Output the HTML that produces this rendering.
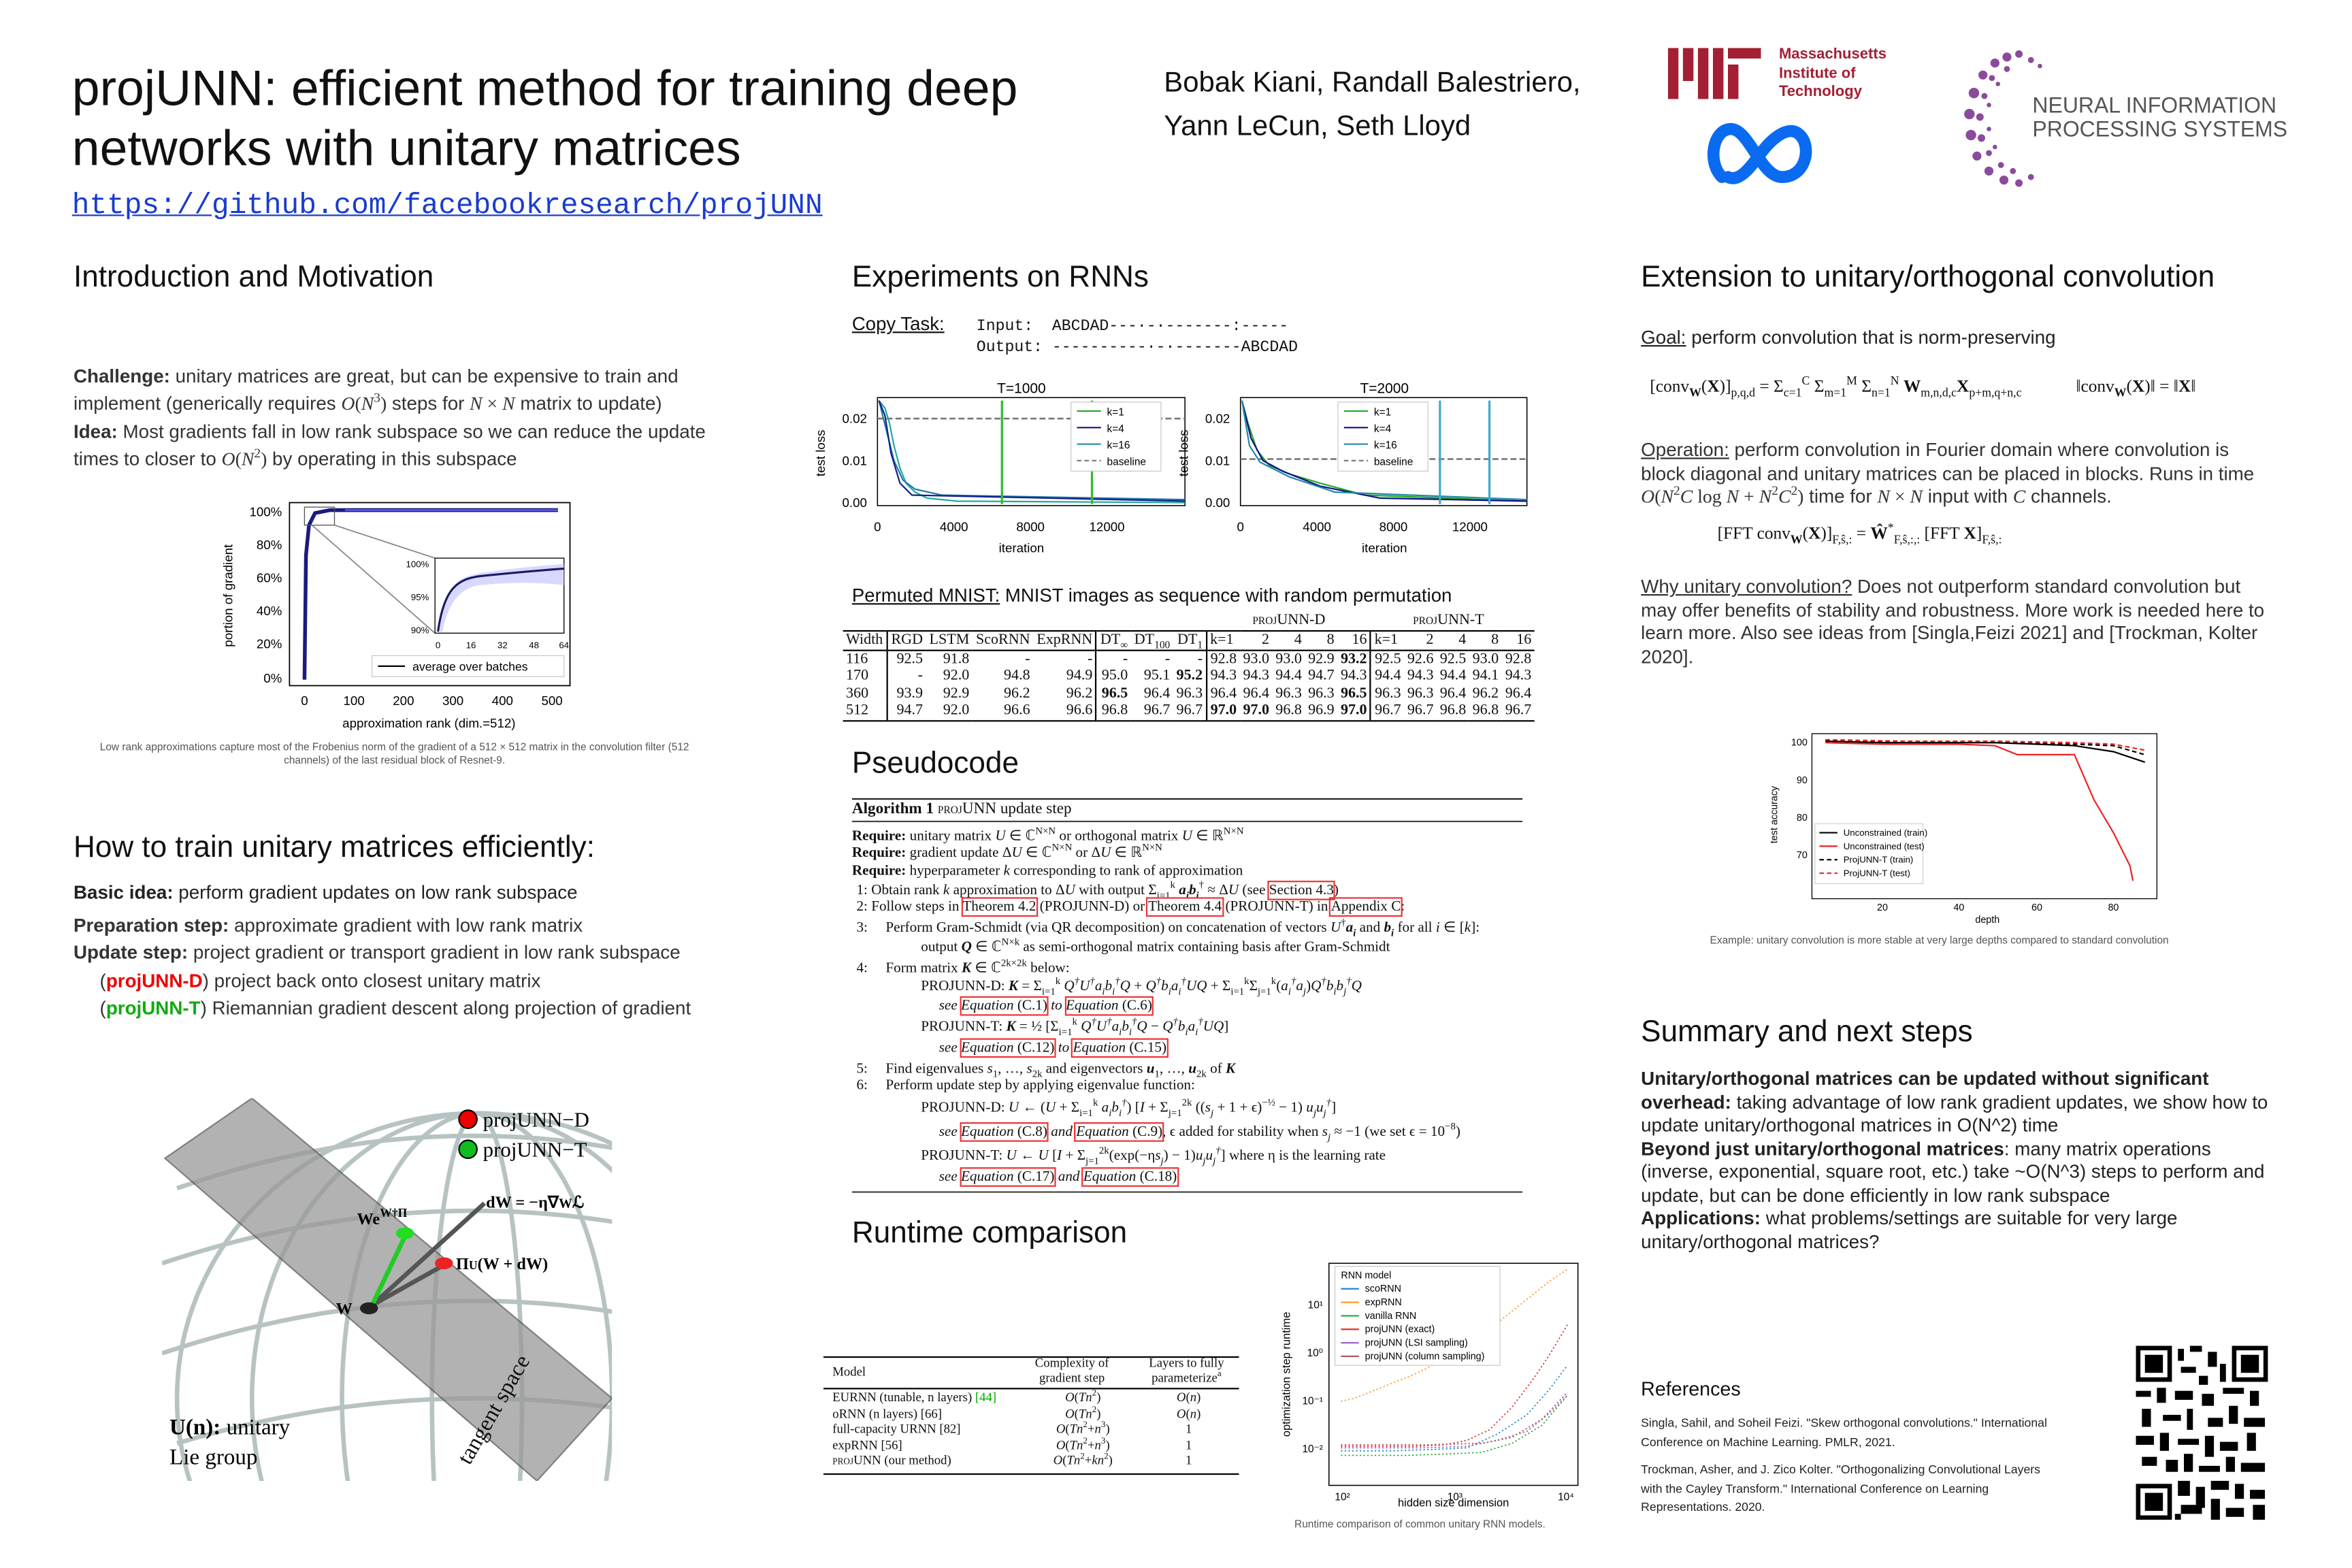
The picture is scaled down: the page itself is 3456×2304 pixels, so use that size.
<!DOCTYPE html>
<html><head><meta charset="utf-8">
<style>
html,body{margin:0;padding:0;background:#fff;overflow:hidden;}
body{width:3456px;height:2304px;overflow:hidden;position:relative;}
#s{position:absolute;left:0;top:0;width:1568px;height:1045px;transform:scale(2.204,2.2046);transform-origin:0 0;font-family:"Liberation Sans",sans-serif;color:#111;overflow:hidden;}
sup,sub{line-height:0;font-size:70%;}
.a{position:absolute;white-space:nowrap;}
.h{font-size:20px;color:#111;}
.b{font-size:12.6px;line-height:18.3px;color:#333;}
.sr{font-family:"Liberation Serif",serif;}
.alg{font-family:"Liberation Serif",serif;font-size:9.6px;color:#111;position:absolute;white-space:nowrap;line-height:11px;}
.bx{outline:1px solid #e33;color:#111;}
table.t{border-collapse:collapse;font-family:"Liberation Serif",serif;font-size:10px;position:absolute;}
table.t td{padding:0 2px;text-align:right;line-height:11.6px;}
.cap{font-size:7px;color:#555;}
</style></head><body><div id="s">

<div class="a" style="left:48px;top:40px;font-size:33.3px;line-height:40px;color:#111">projUNN: efficient method for training deep<br>networks with unitary matrices</div>
<div class="a" style="left:48px;top:126px;font-size:19.4px;font-family:'Liberation Mono',monospace;color:#1a3ccc;text-decoration:underline">https://github.com/facebookresearch/projUNN</div>
<div class="a" style="left:776px;top:41px;font-size:19px;line-height:29px">Bobak Kiani, Randall Balestriero,<br>Yann LeCun, Seth Lloyd</div>

<svg class="a" style="left:1112px;top:32px" width="70" height="36">
<g fill="#a31f34"><rect x="0" y="0" width="7" height="34"/><rect x="10" y="0" width="7" height="22"/><rect x="20" y="0" width="7" height="34"/><rect x="30" y="0" width="7" height="34"/><rect x="40" y="0" width="22" height="7"/><rect x="40" y="11" width="7" height="23"/></g></svg>
<div class="a" style="left:1186px;top:31px;font-size:10px;line-height:12.5px;color:#a31f34;font-weight:bold">Massachusetts<br>Institute of<br>Technology</div>
<svg class="a" style="left:1138px;top:78px" width="74" height="48"><path d="M10 40 C0 30 4 8 16 8 C28 8 36 40 50 40 C66 40 70 20 62 12 C54 4 42 16 36 24 C30 32 22 44 14 40" fill="none" stroke="#0a6bf0" stroke-width="8" stroke-linecap="round"/></svg>
<svg class="a" style="left:1308px;top:30px" width="60" height="98">
<g fill="#8a4b9c">
<circle cx="30" cy="8" r="3"/><circle cx="38" cy="6" r="2.5"/><circle cx="22" cy="12" r="3"/><circle cx="46" cy="10" r="2"/><circle cx="14" cy="20" r="3"/><circle cx="20" cy="22" r="2"/><circle cx="8" cy="32" r="3.5"/><circle cx="15" cy="34" r="2"/><circle cx="5" cy="46" r="3.5"/><circle cx="12" cy="48" r="2.5"/><circle cx="6" cy="60" r="3.5"/><circle cx="13" cy="62" r="2.5"/><circle cx="10" cy="74" r="3"/><circle cx="18" cy="72" r="2"/><circle cx="18" cy="84" r="3"/><circle cx="26" cy="80" r="2"/><circle cx="28" cy="90" r="3"/><circle cx="38" cy="92" r="2.5"/><circle cx="34" cy="84" r="2"/><circle cx="46" cy="88" r="2"/><circle cx="52" cy="14" r="1.5"/><circle cx="30" cy="16" r="2"/><circle cx="24" cy="26" r="1.5"/><circle cx="18" cy="40" r="1.5"/><circle cx="18" cy="56" r="1.5"/><circle cx="22" cy="68" r="1.5"/></g></svg>
<div class="a" style="left:1355px;top:63px;font-size:14.5px;line-height:16px;color:#555">NEURAL INFORMATION<br>PROCESSING SYSTEMS</div>

<div class="a h" style="left:49px;top:174px">Introduction and Motivation</div>
<div class="a h" style="left:568px;top:174px">Experiments on RNNs</div>
<div class="a h" style="left:1094px;top:174px">Extension to unitary/orthogonal convolution</div>
<div class="a h" style="left:49px;top:554px">How to train unitary matrices efficiently:</div>
<div class="a h" style="left:568px;top:498px">Pseudocode</div>
<div class="a h" style="left:568px;top:811px">Runtime comparison</div>
<div class="a h" style="left:1094px;top:677px">Summary and next steps</div>
<div class="a" style="left:1094px;top:918px;font-size:13px">References</div>

<div class="a b" style="left:49px;top:242px"><b>Challenge:</b> unitary matrices are great, but can be expensive to train and<br>implement (generically requires <span class="sr"><i>O</i>(<i>N</i><sup>3</sup>)</span> steps for <span class="sr"><i>N</i> × <i>N</i></span> matrix to update)<br><b>Idea:</b> Most gradients fall in low rank subspace so we can reduce the update<br>times to closer to <span class="sr"><i>O</i>(<i>N</i><sup>2</sup>)</span> by operating in this subspace</div>

<svg class="a" style="left:140px;top:330px" width="250" height="160" font-family="Liberation Sans" font-size="8.5">
<rect x="53" y="5" width="187" height="122" fill="none" stroke="#000" stroke-width="0.8"/>
<g text-anchor="end"><text x="48" y="14">100%</text><text x="48" y="36">80%</text><text x="48" y="58">60%</text><text x="48" y="80">40%</text><text x="48" y="102">20%</text><text x="48" y="125">0%</text></g>
<text transform="translate(15,67) rotate(-90)" text-anchor="middle">portion of gradient</text>
<g text-anchor="middle"><text x="63" y="140">0</text><text x="96" y="140">100</text><text x="129" y="140">200</text><text x="162" y="140">300</text><text x="195" y="140">400</text><text x="228" y="140">500</text><text x="146" y="155">approximation rank (dim.=512)</text></g>
<path d="M63 123 L64 40 L66 20 L70 12 L80 10 L232 10" fill="none" stroke="#1a1a80" stroke-width="2.5"/>
<line x1="90" y1="10" x2="232" y2="10" stroke="#6a6aff" stroke-width="1"/>
<rect x="63" y="8" width="20" height="12" fill="none" stroke="#555" stroke-width="0.6"/>
<line x1="83" y1="20" x2="150" y2="42" stroke="#888" stroke-width="0.8"/><line x1="68" y1="20" x2="150" y2="92" stroke="#888" stroke-width="0.8"/>
<rect x="150" y="42" width="86" height="50" fill="#fff" stroke="#000" stroke-width="0.6"/>
<path d="M153 91 C156 60 165 55 180 52 C200 49 220 47 236 46 L236 60 C220 58 200 58 180 60 C165 62 158 75 155 91Z" fill="#c8c8ff" opacity="0.7"/>
<path d="M152 91 C156 62 165 56 180 54 C200 52 220 50 236 49" fill="none" stroke="#1a1a60" stroke-width="1.4"/>
<g font-size="6" text-anchor="end"><text x="146" y="48">100%</text><text x="146" y="70">95%</text><text x="146" y="92">90%</text></g>
<g font-size="6" text-anchor="middle"><text x="152" y="102">0</text><text x="174" y="102">16</text><text x="195" y="102">32</text><text x="216" y="102">48</text><text x="236" y="102">64</text></g>
<rect x="108" y="107" width="128" height="14" fill="#fff" stroke="#ccc" stroke-width="0.6"/>
<line x1="112" y1="114" x2="130" y2="114" stroke="#000"/><text x="135" y="117" font-size="8">average over batches</text>
</svg>
<div class="a cap" style="left:51px;top:494px;text-align:center;width:424px;white-space:normal;line-height:9px">Low rank approximations capture most of the Frobenius norm of the gradient of a 512 × 512 matrix in the convolution filter (512 channels) of the last residual block of Resnet-9.</div>

<div class="a b" style="left:49px;top:586px;color:#222"><b>Basic idea:</b> perform gradient updates on low rank subspace</div>
<div class="a b" style="left:49px;top:608px"><b>Preparation step:</b> approximate gradient with low rank matrix<br><b>Update step:</b> project gradient or transport gradient in low rank subspace<br>&nbsp;&nbsp;&nbsp;&nbsp;&nbsp;(<b style="color:#e00">projUNN-D</b>) project back onto closest unitary matrix<br>&nbsp;&nbsp;&nbsp;&nbsp;&nbsp;(<b style="color:#1a1">projUNN-T</b>) Riemannian gradient descent along projection of gradient</div>

<svg class="a" style="left:108px;top:732px" width="300" height="255" font-family="Liberation Serif">
<g fill="none" stroke="#9aa" stroke-width="3" opacity="0.7">
<ellipse cx="210" cy="200" rx="200" ry="190"/>
<ellipse cx="210" cy="200" rx="150" ry="190"/>
<ellipse cx="210" cy="200" rx="90" ry="190"/>
<ellipse cx="210" cy="200" rx="30" ry="190"/>
<path d="M10 60 Q210 -10 400 60"/><path d="M0 110 Q210 40 410 110"/><path d="M0 170 Q210 100 410 170"/><path d="M10 230 Q210 170 410 230"/>
</g>
<polygon points="2,40 60,0 300,200 250,255" fill="#999" opacity="0.75" stroke="#555"/>
<line x1="140" y1="138" x2="215" y2="70" stroke="#555" stroke-width="3"/>
<line x1="140" y1="138" x2="190" y2="110" stroke="#555" stroke-width="3"/>
<line x1="140" y1="138" x2="162" y2="92" stroke="#2c2" stroke-width="3"/>
<ellipse cx="138" cy="140" rx="6" ry="4" fill="#222"/>
<ellipse cx="162" cy="90" rx="6" ry="4" fill="#2d2"/>
<ellipse cx="188" cy="110" rx="6" ry="4" fill="#e22"/>
<text x="130" y="84" font-size="11" font-weight="bold">We<tspan font-size="8" dy="-5">W†Π</tspan></text>
<text x="216" y="73" font-size="11" font-weight="bold">dW = −η∇<tspan font-size="9">W</tspan>ℒ</text>
<text x="196" y="114" font-size="11" font-weight="bold">Π<tspan font-size="8">U</tspan>(W + dW)</text>
<text x="116" y="144" font-size="11" font-weight="bold">W</text>
<text x="5" y="224" font-size="15" font-weight="bold">U(n): <tspan font-weight="normal">unitary</tspan></text>
<text x="5" y="244" font-size="15">Lie group</text>
<text transform="translate(205,245) rotate(-60)" font-size="15" fill="#111">tangent space</text>
<circle cx="204" cy="14" r="6" fill="#e00" stroke="#000"/><text x="214" y="19" font-size="14">projUNN−D</text>
<circle cx="204" cy="34" r="6" fill="#1b2" stroke="#000"/><text x="214" y="39" font-size="14">projUNN−T</text>
</svg>

<div class="a" style="left:568px;top:209px;font-size:12.5px"><u>Copy Task:</u></div>
<div class="a" style="left:651px;top:212px;font-family:'Liberation Mono',monospace;font-size:10.5px;line-height:13.5px">Input:&nbsp; ABCDAD---·-·-------:-----<br>Output: ----------·-·-------ABCDAD</div>

<svg class="a" style="left:538px;top:252px" width="490" height="120" font-family="Liberation Sans" font-size="8.5">
<g>
<rect x="47" y="13" width="205" height="72" fill="none" stroke="#000" stroke-width="0.7"/>
<text x="143" y="10" text-anchor="middle" font-size="9.5">T=1000</text>
<g text-anchor="end"><text x="40" y="30">0.02</text><text x="40" y="58">0.01</text><text x="40" y="86">0.00</text></g>
<text transform="translate(12,50) rotate(-90)" text-anchor="middle">test loss</text>
<g text-anchor="middle"><text x="47" y="102">0</text><text x="98" y="102">4000</text><text x="149" y="102">8000</text><text x="200" y="102">12000</text><text x="143" y="116">iteration</text></g>
<line x1="47" y1="27" x2="252" y2="27" stroke="#777" stroke-dasharray="4,2" stroke-width="1.2"/>
<path d="M48 15 L52 20 L55 30 L58 45 L62 60 L66 70 L72 76 L80 80 L100 82 L252 83" fill="none" stroke="#2a9" stroke-width="1"/>
<path d="M48 15 L53 35 L58 55 L64 68 L72 74 L90 78 L252 81" fill="none" stroke="#27a" stroke-width="1"/>
<path d="M48 15 L52 25 L56 50 L62 70 L70 78 L252 82" fill="none" stroke="#128" stroke-width="1"/>
<line x1="130" y1="15" x2="130" y2="84" stroke="#3b3" stroke-width="1.5"/>
<line x1="190" y1="15" x2="190" y2="84" stroke="#3b3" stroke-width="1.5"/>
<rect x="176" y="16" width="60" height="46" fill="#fff" stroke="#ccc" stroke-width="0.6"/>
<g font-size="7"><line x1="180" y1="22" x2="196" y2="22" stroke="#2a2"/><text x="200" y="25">k=1</text><line x1="180" y1="33" x2="196" y2="33" stroke="#118"/><text x="200" y="36">k=4</text><line x1="180" y1="44" x2="196" y2="44" stroke="#28a"/><text x="200" y="47">k=16</text><line x1="180" y1="55" x2="196" y2="55" stroke="#777" stroke-dasharray="3,2"/><text x="200" y="58">baseline</text></g>
</g>
<g transform="translate(242,0)">
<rect x="47" y="13" width="191" height="72" fill="none" stroke="#000" stroke-width="0.7"/>
<text x="143" y="10" text-anchor="middle" font-size="9.5">T=2000</text>
<g text-anchor="end"><text x="40" y="30">0.02</text><text x="40" y="58">0.01</text><text x="40" y="86">0.00</text></g>
<text transform="translate(12,50) rotate(-90)" text-anchor="middle">test loss</text>
<g text-anchor="middle"><text x="47" y="102">0</text><text x="98" y="102">4000</text><text x="149" y="102">8000</text><text x="200" y="102">12000</text><text x="143" y="116">iteration</text></g>
<line x1="47" y1="54" x2="238" y2="54" stroke="#777" stroke-dasharray="4,2" stroke-width="1.2"/>
<path d="M48 15 L52 30 L58 48 L66 58 L80 64 L100 70 L130 78 L238 82" fill="none" stroke="#2a2" stroke-width="1"/>
<path d="M48 15 L54 40 L62 55 L75 62 L100 72 L140 80 L238 82" fill="none" stroke="#118" stroke-width="1"/>
<path d="M48 15 L53 45 L60 56 L80 66 L110 76 L238 81" fill="none" stroke="#28a" stroke-width="1"/>
<line x1="180" y1="15" x2="180" y2="84" stroke="#4ac" stroke-width="1.5"/>
<line x1="213" y1="15" x2="213" y2="84" stroke="#4ac" stroke-width="1.5"/>
<rect x="112" y="16" width="60" height="46" fill="#fff" stroke="#ccc" stroke-width="0.6"/>
<g font-size="7"><line x1="116" y1="22" x2="132" y2="22" stroke="#2a2"/><text x="136" y="25">k=1</text><line x1="116" y1="33" x2="132" y2="33" stroke="#118"/><text x="136" y="36">k=4</text><line x1="116" y1="44" x2="132" y2="44" stroke="#28a"/><text x="136" y="47">k=16</text><line x1="116" y1="55" x2="132" y2="55" stroke="#777" stroke-dasharray="3,2"/><text x="136" y="58">baseline</text></g>
</g>
</svg>

<div class="a" style="left:568px;top:390px;font-size:12.5px"><u>Permuted MNIST:</u> MNIST images as sequence with random permutation</div>
<div class="a sr" style="left:835px;top:408px;font-size:10px;font-variant:small-caps">projUNN-D</div>
<div class="a sr" style="left:942px;top:408px;font-size:10px;font-variant:small-caps">projUNN-T</div>
<table class="t" style="left:562px;top:420px;width:461px;border-top:1px solid #000;border-bottom:1px solid #000">
<tr style="border-bottom:1px solid #000"><td style="text-align:left;border-right:1px solid #000">Width</td><td>RGD</td><td>LSTM</td><td>ScoRNN</td><td style="border-right:1px solid #000">ExpRNN</td><td>DT<sub>∞</sub></td><td>DT<sub>100</sub></td><td style="border-right:1px solid #000">DT<sub>1</sub></td><td style="text-align:left">k=1</td><td>2</td><td>4</td><td>8</td><td style="border-right:1px solid #000">16</td><td style="text-align:left">k=1</td><td>2</td><td>4</td><td>8</td><td>16</td></tr>
<tr><td style="text-align:left;border-right:1px solid #000">116</td><td>92.5</td><td>91.8</td><td>-</td><td style="border-right:1px solid #000">-</td><td>-</td><td>-</td><td style="border-right:1px solid #000">-</td><td>92.8</td><td>93.0</td><td>93.0</td><td>92.9</td><td style="border-right:1px solid #000"><b>93.2</b></td><td>92.5</td><td>92.6</td><td>92.5</td><td>93.0</td><td>92.8</td></tr>
<tr><td style="text-align:left;border-right:1px solid #000">170</td><td>-</td><td>92.0</td><td>94.8</td><td style="border-right:1px solid #000">94.9</td><td>95.0</td><td>95.1</td><td style="border-right:1px solid #000"><b>95.2</b></td><td>94.3</td><td>94.3</td><td>94.4</td><td>94.7</td><td style="border-right:1px solid #000">94.3</td><td>94.4</td><td>94.3</td><td>94.4</td><td>94.1</td><td>94.3</td></tr>
<tr><td style="text-align:left;border-right:1px solid #000">360</td><td>93.9</td><td>92.9</td><td>96.2</td><td style="border-right:1px solid #000">96.2</td><td><b>96.5</b></td><td>96.4</td><td style="border-right:1px solid #000">96.3</td><td>96.4</td><td>96.4</td><td>96.3</td><td>96.3</td><td style="border-right:1px solid #000"><b>96.5</b></td><td>96.3</td><td>96.3</td><td>96.4</td><td>96.2</td><td>96.4</td></tr>
<tr><td style="text-align:left;border-right:1px solid #000">512</td><td>94.7</td><td>92.0</td><td>96.6</td><td style="border-right:1px solid #000">96.6</td><td>96.8</td><td>96.7</td><td style="border-right:1px solid #000">96.7</td><td><b>97.0</b></td><td><b>97.0</b></td><td>96.8</td><td>96.9</td><td style="border-right:1px solid #000"><b>97.0</b></td><td>96.7</td><td>96.7</td><td>96.8</td><td>96.8</td><td>96.7</td></tr>
</table>

<div class="a" style="left:568px;top:532px;width:447px;border-top:1.5px solid #222"></div>
<div class="alg" style="left:568px;top:534px;font-size:10.5px"><b>Algorithm 1</b> <span style="font-variant:small-caps">projUNN</span> update step</div>
<div class="a" style="left:568px;top:547px;width:447px;border-top:0.8px solid #444"></div>
<div class="alg" style="left:568px;top:552px"><b>Require:</b> unitary matrix <i>U</i> ∈ ℂ<sup>N×N</sup> or orthogonal matrix <i>U</i> ∈ ℝ<sup>N×N</sup></div>
<div class="alg" style="left:568px;top:563px"><b>Require:</b> gradient update Δ<i>U</i> ∈ ℂ<sup>N×N</sup> or Δ<i>U</i> ∈ ℝ<sup>N×N</sup></div>
<div class="alg" style="left:568px;top:575px"><b>Require:</b> hyperparameter <i>k</i> corresponding to rank of approximation</div>
<div class="alg" style="left:571px;top:588px">1: Obtain rank <i>k</i> approximation to Δ<i>U</i> with output Σ<sub>i=1</sub><sup>k</sup> <b><i>a<sub>i</sub>b<sub>i</sub></i></b><sup>†</sup> ≈ Δ<i>U</i> (see <span class="bx">Section 4.3</span>)</div>
<div class="alg" style="left:571px;top:599px">2: Follow steps in <span class="bx">Theorem 4.2</span> (PROJUNN-D) or <span class="bx">Theorem 4.4</span> (PROJUNN-T) in <span class="bx">Appendix C</span>:</div>
<div class="alg" style="left:571px;top:613px">3: &nbsp;&nbsp;&nbsp;&nbsp;Perform Gram-Schmidt (via QR decomposition) on concatenation of vectors <i>U</i><sup>†</sup><b><i>a<sub>i</sub></i></b> and <b><i>b<sub>i</sub></i></b> for all <i>i</i> ∈ [<i>k</i>]:</div>
<div class="alg" style="left:614px;top:626px">output <b><i>Q</i></b> ∈ ℂ<sup>N×k</sup> as semi-orthogonal matrix containing basis after Gram-Schmidt</div>
<div class="alg" style="left:571px;top:640px">4: &nbsp;&nbsp;&nbsp;&nbsp;Form matrix <b><i>K</i></b> ∈ ℂ<sup>2k×2k</sup> below:</div>
<div class="alg" style="left:614px;top:652px">PROJUNN-D: <b><i>K</i></b> = Σ<sub>i=1</sub><sup>k</sup> <i>Q<sup>†</sup>U<sup>†</sup>a<sub>i</sub>b<sub>i</sub><sup>†</sup>Q</i> + <i>Q<sup>†</sup>b<sub>i</sub>a<sub>i</sub><sup>†</sup>UQ</i> + Σ<sub>i=1</sub><sup>k</sup>Σ<sub>j=1</sub><sup>k</sup>(<i>a<sub>i</sub><sup>†</sup>a<sub>j</sub></i>)<i>Q<sup>†</sup>b<sub>i</sub>b<sub>j</sub><sup>†</sup>Q</i></div>
<div class="alg" style="left:626px;top:665px"><i>see</i> <span class="bx"><i>Equation</i> (C.1)</span> <i>to</i> <span class="bx"><i>Equation</i> (C.6)</span></div>
<div class="alg" style="left:614px;top:679px">PROJUNN-T: <b><i>K</i></b> = ½ [Σ<sub>i=1</sub><sup>k</sup> <i>Q<sup>†</sup>U<sup>†</sup>a<sub>i</sub>b<sub>i</sub><sup>†</sup>Q</i> − <i>Q<sup>†</sup>b<sub>i</sub>a<sub>i</sub><sup>†</sup>UQ</i>]</div>
<div class="alg" style="left:626px;top:693px"><i>see</i> <span class="bx"><i>Equation</i> (C.12)</span> <i>to</i> <span class="bx"><i>Equation</i> (C.15)</span></div>
<div class="alg" style="left:571px;top:707px">5: &nbsp;&nbsp;&nbsp;&nbsp;Find eigenvalues <i>s</i><sub>1</sub>, …, <i>s</i><sub>2k</sub> and eigenvectors <b><i>u</i></b><sub>1</sub>, …, <b><i>u</i></b><sub>2k</sub> of <b><i>K</i></b></div>
<div class="alg" style="left:571px;top:718px">6: &nbsp;&nbsp;&nbsp;&nbsp;Perform update step by applying eigenvalue function:</div>
<div class="alg" style="left:614px;top:733px">PROJUNN-D: <i>U</i> ← (<i>U</i> + Σ<sub>i=1</sub><sup>k</sup> <i>a<sub>i</sub>b<sub>i</sub><sup>†</sup></i>) [<i>I</i> + Σ<sub>j=1</sub><sup>2k</sup> ((<i>s<sub>j</sub></i> + 1 + ϵ)<sup>−½</sup> − 1) <i>u<sub>j</sub>u<sub>j</sub><sup>†</sup></i>]</div>
<div class="alg" style="left:626px;top:749px"><i>see</i> <span class="bx"><i>Equation</i> (C.8)</span> <i>and</i> <span class="bx"><i>Equation</i> (C.9)</span>, ϵ added for stability when <i>s<sub>j</sub></i> ≈ −1 (we set ϵ = 10<sup>−8</sup>)</div>
<div class="alg" style="left:614px;top:765px">PROJUNN-T: <i>U</i> ← <i>U</i> [<i>I</i> + Σ<sub>j=1</sub><sup>2k</sup>(exp(−η<i>s<sub>j</sub></i>) − 1)<i>u<sub>j</sub>u<sub>j</sub><sup>†</sup></i>] where η is the learning rate</div>
<div class="alg" style="left:626px;top:779px"><i>see</i> <span class="bx"><i>Equation</i> (C.17)</span> <i>and</i> <span class="bx"><i>Equation</i> (C.18)</span></div>
<div class="a" style="left:568px;top:794px;width:447px;border-top:0.8px solid #444"></div>

<div class="a" style="left:549px;top:904px;width:277px;border-top:1px solid #000"></div>
<div class="a sr" style="left:555px;top:909px;font-size:8.5px">Model</div>
<div class="a sr" style="left:690px;top:903px;font-size:8.5px;line-height:10px;text-align:center">Complexity of<br>gradient step</div>
<div class="a sr" style="left:766px;top:903px;font-size:8.5px;line-height:10px;text-align:center">Layers to fully<br>parameterize<sup>a</sup></div>
<div class="a" style="left:549px;top:925px;width:277px;border-top:0.7px solid #000"></div>
<div class="a sr" style="left:555px;top:926px;font-size:8.5px;line-height:10.5px">EURNN (tunable, n layers) <span style="color:#0a0">[44]</span><br>oRNN (n layers) [66]<br>full-capacity URNN [82]<br>expRNN [56]<br><span style="font-variant:small-caps">projUNN</span> (our method)</div>
<div class="a sr" style="left:692px;top:926px;font-size:8.5px;line-height:10.5px;text-align:center;width:60px"><i>O</i>(<i>Tn</i><sup>2</sup>)<br><i>O</i>(<i>Tn</i><sup>2</sup>)<br><i>O</i>(<i>Tn</i><sup>2</sup>+<i>n</i><sup>3</sup>)<br><i>O</i>(<i>Tn</i><sup>2</sup>+<i>n</i><sup>3</sup>)<br><i>O</i>(<i>Tn</i><sup>2</sup>+<i>kn</i><sup>2</sup>)</div>
<div class="a sr" style="left:770px;top:926px;font-size:8.5px;line-height:10.5px;text-align:center;width:45px"><i>O</i>(<i>n</i>)<br><i>O</i>(<i>n</i>)<br>1<br>1<br>1</div>
<div class="a" style="left:549px;top:982px;width:277px;border-top:1px solid #000"></div>

<svg class="a" style="left:848px;top:838px" width="210" height="170" font-family="Liberation Sans" font-size="7">
<rect x="38" y="4" width="166" height="148" fill="none" stroke="#000" stroke-width="0.7"/>
<text transform="translate(12,78) rotate(-90)" text-anchor="middle" font-size="7.5">optimization step runtime</text>
<g text-anchor="end"><text x="34" y="34">10¹</text><text x="34" y="66">10⁰</text><text x="34" y="98">10⁻¹</text><text x="34" y="130">10⁻²</text></g>
<g text-anchor="middle"><text x="47" y="162">10²</text><text x="122" y="162">10³</text><text x="196" y="162">10⁴</text></g>
<polyline points="46,96 55,94 65,90 75,86 85,82 95,78 105,73 115,68 125,63 135,56 145,48 155,40 165,32 175,24 185,16 197,8" fill="none" stroke="#f93" stroke-width="0.8" stroke-dasharray="1,1.5"/>
<polyline points="46,126 70,126 95,126 115,125 130,122 145,115 160,100 175,80 185,65 197,45" fill="none" stroke="#d33" stroke-width="0.8" stroke-dasharray="1,1.5"/>
<polyline points="46,129 80,129 110,128 130,127 150,118 170,105 185,88 197,72" fill="none" stroke="#28c" stroke-width="0.8" stroke-dasharray="1,1.5"/>
<polyline points="46,132 90,132 120,131 140,130 160,124 180,112 197,92" fill="none" stroke="#2a3" stroke-width="0.8" stroke-dasharray="1,1.5"/>
<polyline points="46,127 100,127 130,126 150,122 170,116 185,104 197,92" fill="none" stroke="#96c" stroke-width="0.8" stroke-dasharray="1,1.5"/>
<polyline points="46,125 100,125 140,124 160,120 180,108 197,90" fill="none" stroke="#a55" stroke-width="0.8" stroke-dasharray="1,1.5"/>
<rect x="42" y="6" width="110" height="66" fill="#fff" stroke="#ccc" stroke-width="0.6"/>
<g font-size="6.5"><text x="46" y="14">RNN model</text>
<text x="62" y="23">scoRNN</text><text x="62" y="32">expRNN</text><text x="62" y="41">vanilla RNN</text><text x="62" y="50">projUNN (exact)</text><text x="62" y="59">projUNN (LSI sampling)</text><text x="62" y="68">projUNN (column sampling)</text></g>
<g stroke-width="1"><line x1="46" y1="21" x2="58" y2="21" stroke="#28c"/><line x1="46" y1="30" x2="58" y2="30" stroke="#f93"/><line x1="46" y1="39" x2="58" y2="39" stroke="#2a3"/><line x1="46" y1="48" x2="58" y2="48" stroke="#d33"/><line x1="46" y1="57" x2="58" y2="57" stroke="#96c"/><line x1="46" y1="66" x2="58" y2="66" stroke="#a55"/></g>
<text x="121" y="166" text-anchor="middle" font-size="7.5">hidden size dimension</text>
</svg>
<div class="a cap" style="left:863px;top:1013px">Runtime comparison of common unitary RNN models.</div>

<div class="a b" style="left:1094px;top:216px;color:#222"><u>Goal:</u> perform convolution that is norm-preserving</div>
<div class="a sr" style="left:1100px;top:252px;font-size:11.5px">[conv<sub><b>W</b></sub>(<b>X</b>)]<sub>p,q,d</sub> = Σ<sub>c=1</sub><sup>C</sup> Σ<sub>m=1</sub><sup>M</sup> Σ<sub>n=1</sub><sup>N</sup> <b>W</b><sub>m,n,d,c</sub><b>X</b><sub>p+m,q+n,c</sub></div>
<div class="a sr" style="left:1384px;top:252px;font-size:11.5px">‖conv<sub><b>W</b></sub>(<b>X</b>)‖ = ‖<b>X</b>‖</div>
<div class="a b" style="left:1094px;top:293px;line-height:15.5px"><u>Operation:</u> perform convolution in Fourier domain where convolution is<br>block diagonal and unitary matrices can be placed in blocks. Runs in time<br><span class="sr"><i>O</i>(<i>N</i><sup>2</sup><i>C</i> log <i>N</i> + <i>N</i><sup>2</sup><i>C</i><sup>2</sup>)</span> time for <span class="sr"><i>N</i> × <i>N</i></span> input with <span class="sr"><i>C</i></span> channels.</div>
<div class="a sr" style="left:1145px;top:350px;font-size:11.5px">[FFT conv<sub><b>W</b></sub>(<b>X</b>)]<sub>F,ŝ,:</sub> = <b>Ŵ</b><sup>*</sup><sub>F,ŝ,:,:</sub> [FFT <b>X</b>]<sub>F,ŝ,:</sub></div>
<div class="a b" style="left:1094px;top:384px;line-height:15.5px"><u>Why unitary convolution?</u> Does not outperform standard convolution but<br>may offer benefits of stability and robustness. More work is needed here to<br>learn more. Also see ideas from [Singla,Feizi 2021] and [Trockman, Kolter<br>2020].</div>

<svg class="a" style="left:1170px;top:485px" width="280" height="135" font-family="Liberation Sans" font-size="6.5">
<rect x="38" y="4" width="230" height="110" fill="none" stroke="#000" stroke-width="0.6"/>
<text transform="translate(15,58) rotate(-90)" text-anchor="middle">test accuracy</text>
<g text-anchor="end"><text x="35" y="12">100</text><text x="35" y="37">90</text><text x="35" y="62">80</text><text x="35" y="87">70</text></g>
<g text-anchor="middle"><text x="85" y="122">20</text><text x="136" y="122">40</text><text x="188" y="122">60</text><text x="239" y="122">80</text><text x="155" y="130">depth</text></g>
<polyline points="47,9 85,10 136,10 160,10 188,11 213,12 239,16 260,23" fill="none" stroke="#000" stroke-width="1"/>
<polyline points="47,10 85,11 136,11 160,12 175,18 188,18 200,18 213,18 226,48 239,70 250,92 252,102" fill="none" stroke="#e22" stroke-width="1"/>
<polyline points="47,9 100,9 160,10 213,11 239,12 260,18" fill="none" stroke="#000" stroke-width="1" stroke-dasharray="3,2"/>
<polyline points="47,8 100,9 160,9 213,10 239,11 260,15" fill="none" stroke="#e22" stroke-width="1" stroke-dasharray="3,2"/>
<rect x="40" y="64" width="72" height="40" fill="#fff" stroke="#ccc" stroke-width="0.5"/>
<g font-size="6"><line x1="43" y1="70" x2="55" y2="70" stroke="#000"/><text x="59" y="72">Unconstrained (train)</text>
<line x1="43" y1="79" x2="55" y2="79" stroke="#e22"/><text x="59" y="81">Unconstrained (test)</text>
<line x1="43" y1="88" x2="55" y2="88" stroke="#000" stroke-dasharray="3,2"/><text x="59" y="90">ProjUNN-T (train)</text>
<line x1="43" y1="97" x2="55" y2="97" stroke="#e22" stroke-dasharray="3,2"/><text x="59" y="99">ProjUNN-T (test)</text></g>
</svg>
<div class="a cap" style="left:1140px;top:624px">Example: unitary convolution is more stable at very large depths compared to standard convolution</div>

<div class="a b" style="left:1094px;top:712px;line-height:15.5px;color:#222"><b>Unitary/orthogonal matrices can be updated without significant<br>overhead:</b> taking advantage of low rank gradient updates, we show how to<br>update unitary/orthogonal matrices in O(N^2) time<br><b>Beyond just unitary/orthogonal matrices</b>: many matrix operations<br>(inverse, exponential, square root, etc.) take ~O(N^3) steps to perform and<br>update, but can be done efficiently in low rank subspace<br><b>Applications:</b> what problems/settings are suitable for very large<br>unitary/orthogonal matrices?</div>

<div class="a" style="left:1094px;top:943px;font-size:8px;line-height:12.5px;color:#222">Singla, Sahil, and Soheil Feizi. "Skew orthogonal convolutions." International<br>Conference on Machine Learning. PMLR, 2021.<br><div style="height:6px"></div>Trockman, Asher, and J. Zico Kolter. "Orthogonalizing Convolutional Layers<br>with the Cayley Transform." International Conference on Learning<br>Representations. 2020.</div>

<svg class="a" style="left:1424px;top:897px" width="88" height="116">
<g fill="#000">
<rect x="0" y="0" width="24" height="24"/><rect x="3" y="3" width="18" height="18" fill="#fff"/><rect x="6" y="6" width="12" height="12"/>
<rect x="64" y="0" width="24" height="24"/><rect x="67" y="3" width="18" height="18" fill="#fff"/><rect x="70" y="6" width="12" height="12"/>
<rect x="0" y="92" width="24" height="24"/><rect x="3" y="95" width="18" height="18" fill="#fff"/><rect x="6" y="98" width="12" height="12"/>
<rect x="28" y="2" width="4" height="8"/><rect x="36" y="0" width="8" height="4"/><rect x="48" y="4" width="6" height="10"/><rect x="30" y="14" width="10" height="4"/><rect x="56" y="12" width="4" height="12"/><rect x="42" y="20" width="6" height="6"/>
<rect x="0" y="30" width="10" height="4"/><rect x="14" y="28" width="6" height="10"/><rect x="26" y="30" width="12" height="6"/><rect x="44" y="32" width="8" height="8"/><rect x="58" y="28" width="14" height="4"/><rect x="76" y="30" width="6" height="10"/>
<rect x="4" y="42" width="6" height="12"/><rect x="18" y="46" width="12" height="4"/><rect x="34" y="42" width="4" height="14"/><rect x="48" y="48" width="10" height="6"/><rect x="62" y="40" width="6" height="12"/><rect x="72" y="48" width="14" height="6"/>
<rect x="0" y="60" width="12" height="6"/><rect x="16" y="58" width="6" height="12"/><rect x="28" y="62" width="14" height="4"/><rect x="46" y="60" width="6" height="14"/><rect x="56" y="64" width="12" height="6"/><rect x="74" y="58" width="6" height="12"/>
<rect x="4" y="74" width="10" height="6"/><rect x="20" y="76" width="8" height="8"/><rect x="32" y="72" width="6" height="12"/><rect x="42" y="80" width="14" height="4"/><rect x="60" y="74" width="6" height="10"/><rect x="70" y="78" width="16" height="6"/>
<rect x="28" y="90" width="8" height="10"/><rect x="40" y="94" width="6" height="14"/><rect x="50" y="90" width="12" height="6"/><rect x="66" y="92" width="6" height="10"/><rect x="76" y="96" width="10" height="6"/>
<rect x="30" y="106" width="14" height="6"/><rect x="50" y="102" width="6" height="14"/><rect x="60" y="108" width="12" height="6"/><rect x="78" y="106" width="8" height="10"/><rect x="26" y="112" width="4" height="4"/>
</g></svg>

</div></body></html>
